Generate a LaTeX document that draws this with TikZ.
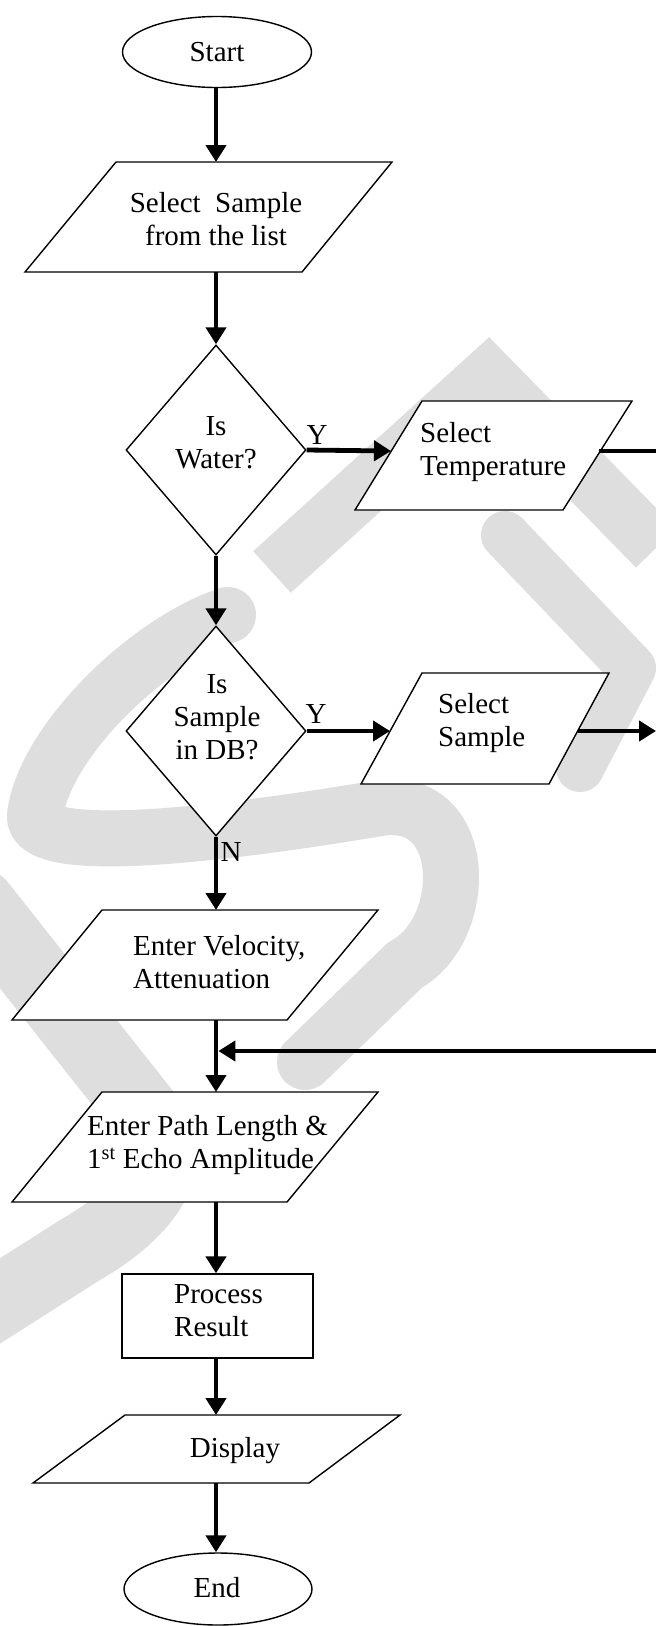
\documentclass[tikz,border=0pt]{standalone}
\usepackage{fontspec}
\setmainfont{Liberation Serif}
\usetikzlibrary{arrows.meta,shapes.geometric}
\begin{document}
\begin{tikzpicture}[x=1pt,y=-1pt,
  shapeline/.style={draw=black,line width=1.4pt,fill=white},
  conn/.style={line width=4.8pt,-{Triangle[width=20pt,length=17pt]}},
  plainconn/.style={line width=4.8pt},
  txt/.style={font=\fontsize{29}{33}\selectfont,inner sep=0pt},
  wm/.style={draw=black!13,line width=56pt,line cap=round,line join=round}
]
\useasboundingbox (0,0) rectangle (656,1626);
\fill[white] (0,0) rectangle (656,1626);

% watermark (light grey, behind everything)
\draw[wm,line join=miter,line cap=butt] (272,572) -- (488,376) -- (656,548);
\draw[wm,line width=48pt] (505,535) -- (632,668) -- (580,768);
\draw[wm] (228,615) .. controls (150,640) and (45,740) .. (35,815)
          .. controls (30,860) and (250,830) .. (380,808)
          .. controls (470,795) and (470,930) .. (405,965) -- (305,1062);
\draw[wm,line width=72pt] (-20,905) -- (150,1120)
          .. controls (180,1160) and (150,1210) .. (80,1250) -- (-30,1320);

% shapes
\node[ellipse,shapeline,minimum width=189pt,minimum height=71pt,inner sep=0pt] (start) at (217,52) {};
\node[txt] (starttxt) at (217,52) {Start};

\draw[shapeline] (116,162) -- (392,162) -- (302,272) -- (25,272) -- cycle;
\coordinate (p1n) at (216,162);
\coordinate (p1s) at (216,272);
\node[txt,align=center] (p1txt) at (216,219) {Select\ \ Sample\\from the list};

\node[diamond,shapeline,minimum width=180pt,minimum height=210pt,inner sep=0pt,aspect=0.857] (d1) at (216,450) {};
\node[txt,align=center] (d1txt) at (216,443) {Is\\Water?};
\node[txt] (y1) at (317,435) {Y};

\draw[shapeline] (422,401) -- (632,401) -- (563,510) -- (355,510) -- cycle;
\coordinate (p2w) at (391,451);
\coordinate (p2e) at (599,451);
\coordinate (edge1) at (656,451);
\node[txt,align=left,anchor=west] (p2txt) at (420,452) {Select\\Temperature};

\node[diamond,shapeline,minimum width=180pt,minimum height=210pt,inner sep=0pt,aspect=0.857] (d2) at (216,731) {};
\node[txt,align=center] (d2txt) at (217,717) {Is\\Sample\\in DB?};
\node[txt] (y2) at (316,714) {Y};
\node[txt] (n2) at (231,852) {N};

\draw[shapeline] (422,673) -- (609,673) -- (549,784) -- (361,784) -- cycle;
\coordinate (p3w) at (390,731);
\coordinate (p3e) at (578,731);
\coordinate (edge2) at (656,731);
\node[txt,align=left,anchor=west] (p3txt) at (438,723) {Select\\Sample};

\draw[shapeline] (102,910) -- (378,910) -- (287,1020) -- (12,1020) -- cycle;
\coordinate (p4n) at (216,910);
\coordinate (p4s) at (216,1020);
\node[txt,align=left,anchor=west] (p4txt) at (133,962) {Enter Velocity,\\Attenuation};

\coordinate (edge3) at (656,1051);
\coordinate (merge) at (218.4,1051);

\draw[shapeline] (102,1092) -- (378,1092) -- (287,1202) -- (12,1202) -- cycle;
\coordinate (p5n) at (216,1092);
\coordinate (p5s) at (216,1202);
\node[txt,align=left,anchor=west] (p5txt) at (87,1145) {Enter Path Length \&\\1\textsuperscript{st} Echo Amplitude};

\node[rectangle,shapeline,minimum width=191pt,minimum height=84pt,inner sep=0pt] (proc) at (217.5,1316) {};
\node[txt,align=left,anchor=west] (proctxt) at (174,1311) {Process\\Result};

\draw[shapeline] (125,1415) -- (400,1415) -- (309,1483) -- (33,1483) -- cycle;
\coordinate (p6n) at (216,1415);
\coordinate (p6s) at (216,1483);
\node[txt] (p6txt) at (235,1451) {Display};

\node[ellipse,shapeline,minimum width=188pt,minimum height=72pt,inner sep=0pt] (end) at (218,1589) {};
\node[txt] (endtxt) at (217,1588) {End};

% connectors
\draw[conn] (start.south -| p1n) -- (p1n);
\draw[conn] (p1s) -- (d1.north);
\draw[conn] (d1.east) -- (p2w);
\draw[plainconn] (p2e) -- (edge1);
\draw[conn] (d1.south) -- (d2.north);
\draw[conn] (d2.east) -- (p3w);
\draw[conn] (p3e) -- (edge2);
\draw[conn] (d2.south) -- (p4n);
\draw[plainconn] (p4s) -- (p5n |- merge);
\draw[conn] (p4s |- merge) -- (p5n);
\draw[conn] (edge3) -- (merge);
\draw[conn] (p5s) -- (proc.north -| p5s);
\draw[conn] (proc.south -| p6n) -- (p6n);
\draw[conn] (p6s) -- (end.north -| p6s);
\end{tikzpicture}
\end{document}
